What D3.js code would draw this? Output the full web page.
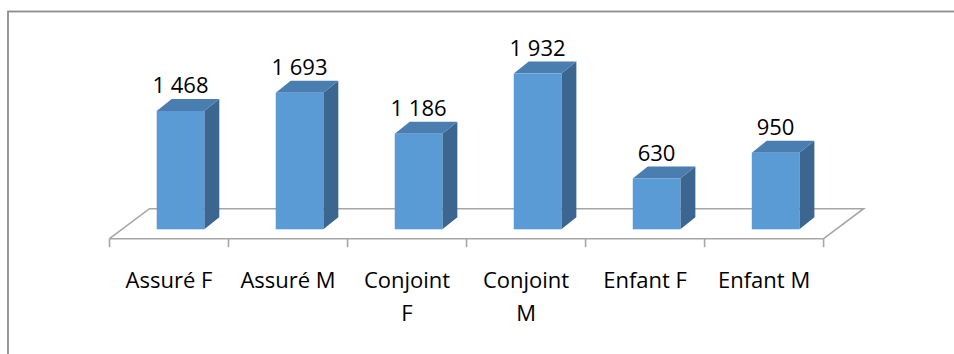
<!DOCTYPE html>
<html>
<head>
<meta charset="utf-8">
<script src="https://cdn.jsdelivr.net/npm/d3@7"></script>
<style>
  html, body { margin: 0; padding: 0; background: #fff; }
  svg { display: block; }
  text { font-family: "Open Sans", "Noto Sans", sans-serif; fill: #000; }
</style>
</head>
<body>
<svg id="chart" width="954" height="354"></svg>
<script>
const categories = ["Assuré F", "Assuré M", "Conjoint F", "Conjoint M", "Enfant F", "Enfant M"];
const values = [1468, 1693, 1186, 1932, 630, 950];

(function () {
const svg = d3.select("#chart");

// chart frame (only top and left visible)
svg.append("rect")
  .attr("x", 8).attr("y", 11.5)
  .attr("width", 1000).attr("height", 400)
  .attr("fill", "#fff")
  .attr("stroke", "#8c8c8c").attr("stroke-width", 1.8);

const floorFront = 238.7;
const depthX = 40, depthY = -30;       // floor depth
const barOffX = 11.5, barOffY = -9.4;  // bar front face offset from floor front
const barDX = 15, barDY = -12;         // bar depth

const x = d3.scaleBand().domain(categories).range([109.5, 823.6]).padding(0);
const bw = x.bandwidth();
const barW = bw * 0.4;

const yBase = floorFront + barOffY;
const y = d3.scaleLinear().domain([0, 2000]).range([yBase, yBase - 161.2]);

const gray = "#a6a6a6";
const x0 = x.range()[0], x1 = x.range()[1];

// floor: back and side lines
const floor = svg.append("g").attr("fill", "none").attr("stroke", gray).attr("stroke-width", 1.6);
floor.append("path").attr("d", d3.line()([
  [x0, floorFront], [x0 + depthX, floorFront + depthY], [x1 + depthX, floorFront + depthY], [x1, floorFront]
]));
floor.append("line")
  .attr("x1", x0).attr("x2", x1).attr("y1", floorFront).attr("y2", floorFront);

// ticks
const tickPos = categories.map(c => x(c)).concat([x1]);
floor.selectAll("line.tick").data(tickPos).join("line")
  .attr("class", "tick")
  .attr("x1", d => d).attr("x2", d => d)
  .attr("y1", floorFront).attr("y2", floorFront + 8.5);

// bars
const cFront = "#5b9bd5", cTop = "#4a7db0", cSide = "#3a6690";
const data = categories.map((c, i) => ({ c, v: values[i] }));
const bars = svg.append("g").selectAll("g").data(data).join("g");

const bx = d => x(d.c) + bw / 2 - barW / 2 + barOffX;

bars.append("path").attr("fill", cSide).attr("d", d => {
  const l = bx(d) + barW, t = y(d.v), b = y(0);
  return d3.line()([[l, t], [l + barDX, t + barDY], [l + barDX, b + barDY], [l, b]]) + "Z";
});
bars.append("path").attr("fill", cTop).attr("d", d => {
  const l = bx(d), t = y(d.v);
  return d3.line()([[l, t], [l + barW, t], [l + barW + barDX, t + barDY], [l + barDX, t + barDY]]) + "Z";
});
bars.append("rect").attr("fill", cFront)
  .attr("x", d => bx(d)).attr("width", barW)
  .attr("y", d => y(d.v)).attr("height", d => y(0) - y(d.v));

// value labels
const fmt = d3.formatLocale({ decimal: ",", thousands: "\u00a0", grouping: [3], currency: ["", " €"] }).format(",d");
svg.append("g").selectAll("text").data(data).join("text")
  .attr("x", d => bx(d) + barW / 2)
  .attr("y", d => y(d.v) - 18)
  .attr("text-anchor", "middle")
  .attr("font-size", 22)
  .text(d => fmt(d.v));

// category labels with wrapping
const labels = svg.append("g").selectAll("text").data(categories).join("text")
  .attr("x", d => x(d) + bw / 2)
  .attr("y", 287.7)
  .attr("text-anchor", "middle")
  .attr("font-size", 22);

labels.each(function(d) {
  const t = d3.select(this);
  const words = d.split(" ");
  let line = [], lines = [];
  const probe = t.append("tspan");
  words.forEach(w => {
    const test = line.concat([w]).join(" ");
    probe.text(test);
    if (probe.node().getComputedTextLength() > 100 && line.length) {
      lines.push(line.join(" "));
      line = [w];
    } else {
      line.push(w);
    }
  });
  lines.push(line.join(" "));
  probe.remove();
  lines.forEach((l, i) => {
    t.append("tspan").attr("x", x(d) + bw / 2).attr("dy", i === 0 ? 0 : 33.5).text(l);
  });
});
})();
</script>
</body>
</html>
